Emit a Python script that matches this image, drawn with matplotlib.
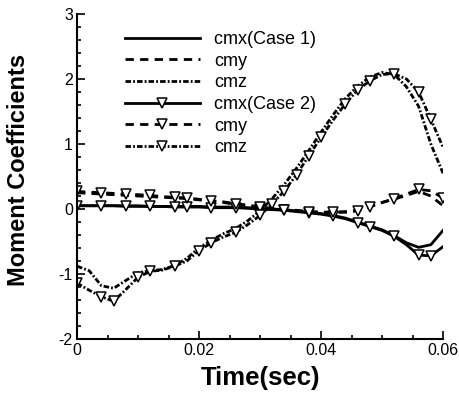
#!/usr/bin/env python3

import matplotlib
matplotlib.use("Agg")
import matplotlib.pyplot as plt
from matplotlib.ticker import MultipleLocator

plt.rcParams["font.family"] = ["Liberation Sans", "DejaVu Sans"]
plt.rcParams["lines.scale_dashes"] = False
plt.rcParams["axes.unicode_minus"] = False

# time grid (sec)
time = [0.000, 0.002, 0.004, 0.006, 0.008, 0.010, 0.012, 0.014, 0.016, 0.018,
        0.020, 0.022, 0.024, 0.026, 0.028, 0.030, 0.032, 0.034, 0.036, 0.038,
        0.040, 0.042, 0.044, 0.046, 0.048, 0.050, 0.052, 0.054, 0.056, 0.058,
        0.060]

# Case 1
cmx_1 = [0.05, 0.05, 0.05, 0.05, 0.05, 0.05, 0.04, 0.04, 0.04, 0.04,
         0.04, 0.03, 0.03, 0.03, 0.02, 0.01, 0.00, -0.01, -0.03, -0.05,
         -0.07, -0.10, -0.14, -0.20, -0.26, -0.32, -0.41, -0.52, -0.59, -0.55,
         -0.33]
cmy_1 = [0.25, 0.24, 0.23, 0.22, 0.21, 0.20, 0.19, 0.18, 0.17, 0.16,
         0.14, 0.12, 0.10, 0.07, 0.05, 0.02, 0.00, -0.02, -0.03, -0.04,
         -0.05, -0.05, -0.04, -0.02, 0.04, 0.10, 0.15, 0.21, 0.27, 0.20,
         0.05]
cmz_1 = [-0.88, -0.95, -1.18, -1.22, -1.10, -0.98, -0.95, -0.93, -0.87, -0.76,
         -0.60, -0.48, -0.38, -0.30, -0.18, -0.03, 0.16, 0.38, 0.63, 0.90,
         1.18, 1.45, 1.70, 1.89, 2.03, 2.10, 2.07, 1.88, 1.58, 1.00,
         0.55]

# Case 2
cmx_2 = [0.05, 0.05, 0.05, 0.05, 0.04, 0.04, 0.04, 0.04, 0.03, 0.03,
         0.03, 0.02, 0.02, 0.02, 0.01, 0.00, -0.01, -0.02, -0.04, -0.06,
         -0.08, -0.11, -0.15, -0.21, -0.27, -0.33, -0.42, -0.55, -0.71, -0.72,
         -0.58]
cmy_2 = [0.27, 0.26, 0.25, 0.24, 0.23, 0.22, 0.21, 0.19, 0.18, 0.17,
         0.15, 0.13, 0.11, 0.08, 0.06, 0.03, 0.01, -0.01, -0.02, -0.04,
         -0.05, -0.05, -0.05, -0.03, 0.03, 0.10, 0.16, 0.23, 0.30, 0.28,
         0.17]
cmz_2 = [-1.14, -1.25, -1.35, -1.42, -1.24, -1.05, -0.96, -0.94, -0.88, -0.80,
         -0.64, -0.52, -0.43, -0.36, -0.24, -0.10, 0.08, 0.28, 0.53, 0.82,
         1.10, 1.37, 1.62, 1.83, 1.97, 2.07, 2.08, 2.00, 1.80, 1.38,
         0.95]

dash = (6, 4.5)
dashdot = (4, 1.5, 1.3, 1.5)
lw = 2.0

fig = plt.figure(figsize=(4.6, 3.94), dpi=100)
ax = fig.add_axes([0.1674, 0.1396, 0.7957, 0.8249])

ax.plot(time, cmx_1, color="k", lw=lw, label="cmx(Case 1)")
ax.plot(time, cmy_1, color="k", lw=lw, dashes=dash, label="cmy")
ax.plot(time, cmz_1, color="k", lw=lw, dashes=dashdot, label="cmz")

mk = dict(marker="v", markersize=7, markerfacecolor="white",
          markeredgecolor="k", markeredgewidth=1.1, markevery=0.047)
ax.plot(time, cmx_2, color="k", lw=lw, label="cmx(Case 2)", **mk)
ax.plot(time, cmy_2, color="k", lw=lw, dashes=dash, label="cmy", **mk)
ax.plot(time, cmz_2, color="k", lw=lw, dashes=dashdot, label="cmz", **mk)

ax.set_xlim(0, 0.06)
ax.set_ylim(-2, 3)
ax.xaxis.set_major_locator(MultipleLocator(0.02))
ax.xaxis.set_minor_locator(MultipleLocator(0.005))
ax.yaxis.set_major_locator(MultipleLocator(1))
ax.yaxis.set_minor_locator(MultipleLocator(0.2))
ax.set_xticks([0, 0.02, 0.04, 0.06])
ax.set_xticklabels(["0", "0.02", "0.04", "0.06"])

for side in ["top", "right"]:
    ax.spines[side].set_visible(False)
for side in ["left", "bottom"]:
    ax.spines[side].set_linewidth(1.5)

ax.tick_params(which="both", direction="in", labelsize=11.5, width=1.2)
ax.tick_params(which="major", length=6, pad=3)
ax.tick_params(which="minor", length=3)

ax.set_xlabel("Time(sec)", fontsize=18.5, fontweight="bold", labelpad=6)
ax.set_ylabel("Moment Coefficients", fontsize=17, fontweight="bold")
ax.yaxis.set_label_coords(-0.128, 0.52)

ax.legend(loc="upper left", bbox_to_anchor=(0.131, 0.948), frameon=False,
          fontsize=13, handlelength=4.15, handletextpad=0.8,
          labelspacing=0.26, borderpad=0, borderaxespad=0, numpoints=1)

fig.savefig("out.png", dpi=100)
